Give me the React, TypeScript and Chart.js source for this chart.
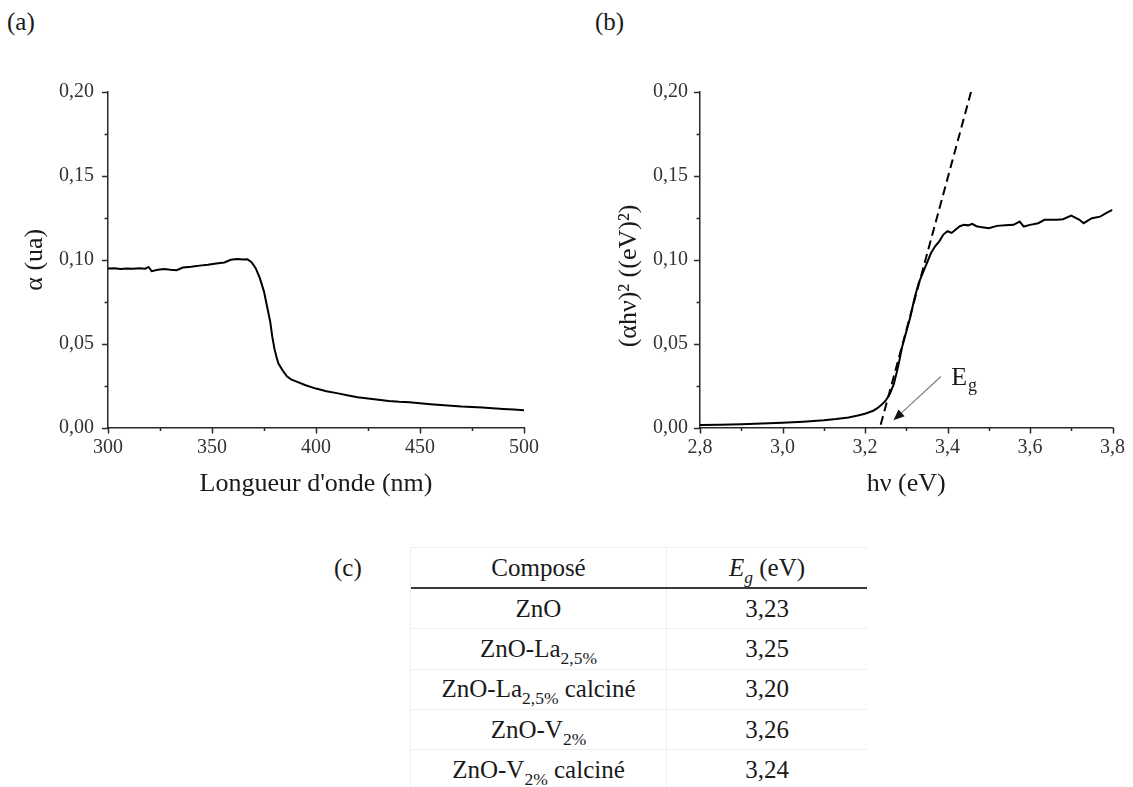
import React, { useEffect, useRef } from "react";
import { Chart, registerables } from "chart.js";

Chart.register(...registerables);

const FONT = "'Liberation Serif', 'Times New Roman', serif";
const INK = "#1a1a1a";
const AXIS = "#2a2a2a";

// ---------- (a) absorption spectrum ----------
const wavelengthNm = [
  300, 303, 306, 309, 312, 315, 318, 319.5, 321, 324, 327, 330, 333, 336, 340, 344, 348, 352, 356, 359,
  362, 365, 367, 369, 371, 373, 375, 376, 377, 378, 379, 380, 381, 382, 384, 386, 388, 391, 395, 400,
  405, 410, 415, 420, 425, 430, 435, 440, 445, 450, 455, 460, 465, 470, 475, 480, 485, 490, 495, 500,
];
const alphaUa = [
  0.0948, 0.095, 0.0945, 0.0948, 0.0946, 0.095, 0.0947, 0.0957, 0.0932, 0.094, 0.0945, 0.094, 0.0938, 0.0954, 0.0958, 0.0965, 0.097, 0.0978, 0.0984, 0.1,
  0.1004, 0.1001, 0.1003, 0.0985, 0.095, 0.089, 0.081, 0.075, 0.069, 0.063, 0.054, 0.047, 0.042, 0.038, 0.034, 0.0305, 0.0287, 0.0272, 0.0252, 0.0232,
  0.0216, 0.0205, 0.0192, 0.0181, 0.0173, 0.0165, 0.0158, 0.0153, 0.015, 0.0144, 0.0139, 0.0134, 0.013, 0.0125, 0.0122, 0.0119, 0.0115, 0.0111, 0.0107, 0.0103,
];

// ---------- (b) Tauc plot ----------
const photonEnergyEV = [
  2.8, 2.85, 2.9, 2.95, 3.0, 3.05, 3.1, 3.13, 3.16, 3.18, 3.2, 3.22, 3.23, 3.24, 3.25, 3.26, 3.27, 3.275, 3.28, 3.29,
  3.3, 3.31, 3.32, 3.33, 3.34, 3.35, 3.36, 3.37, 3.38, 3.39, 3.4, 3.41, 3.42, 3.43, 3.44, 3.45, 3.46, 3.47, 3.48, 3.5,
  3.52, 3.54, 3.56, 3.575, 3.585, 3.6, 3.62, 3.635, 3.665, 3.68, 3.7, 3.72, 3.73, 3.75, 3.77, 3.79, 3.8,
];
const tauc = [
  0.0015, 0.0017, 0.002, 0.0024, 0.0029, 0.0035, 0.0043, 0.005, 0.006, 0.007, 0.0082, 0.01, 0.0115, 0.0135, 0.016, 0.02, 0.026, 0.031, 0.036, 0.048,
  0.057, 0.066, 0.077, 0.086, 0.092, 0.098, 0.104, 0.108, 0.111, 0.115, 0.117, 0.116, 0.118, 0.12, 0.1208, 0.1205, 0.1214, 0.12, 0.1195, 0.1188,
  0.1202, 0.1206, 0.1208, 0.1228, 0.1198, 0.1208, 0.1218, 0.1238, 0.1238, 0.1242, 0.1263, 0.1238, 0.1218, 0.1248, 0.1257, 0.1285, 0.1297,
];
const tangentEV = [3.238, 3.457];
const tangentValues = [0.0016, 0.2];
const arrowFrom = [3.384, 0.0304];
const arrowTo = [3.269, 0.0043];
const egLabelAt = [3.409, 0.0251];

// ---------- axes ----------
const yTickStep = 0.05;
const yRange = [0, 0.2];
const xRangeA = [300, 500];
const xStepA = 50;
const xRangeB = [2.8, 3.8];
const xStepB = 0.2;

// ---------- (c) table ----------
const tableHeaders = ["Composé", "(eV)"];
const compounds = ["ZnO", "ZnO-La", "ZnO-La", "ZnO-V", "ZnO-V"];
const compoundSubs = ["", "2,5%", "2,5%", "2%", "2%"];
const compoundSuffix = ["", "", " calciné", "", " calciné"];
const bandGaps = ["3,23", "3,25", "3,20", "3,26", "3,24"];

const comma = (v: number, d: number) => v.toFixed(d).replace(".", ",");

const originTicks = {
  id: "originTicks",
  afterDraw(chart: any) {
    const ctx = chart.ctx;
    ctx.save();
    ctx.strokeStyle = AXIS;
    ctx.lineWidth = 1.5;
    for (const id of ["x", "y"]) {
      const s = chart.scales[id];
      const vals = s.ticks.map((t: any) => t.value);
      const draw = (v: number, len: number) => {
        const p = Math.round(s.getPixelForValue(v)) + 0.5;
        ctx.beginPath();
        if (s.isHorizontal()) {
          ctx.moveTo(p, s.top);
          ctx.lineTo(p, s.top + len);
        } else {
          ctx.moveTo(s.right, p);
          ctx.lineTo(s.right - len, p);
        }
        ctx.stroke();
      };
      vals.forEach((v: number, i: number) => {
        draw(v, 6);
        if (i < vals.length - 1) draw((v + vals[i + 1]) / 2, 3.5);
      });
    }
    ctx.restore();
  },
};

const egAnnotation = {
  id: "egAnnotation",
  afterDatasetsDraw(chart: any) {
    const { x, y } = chart.scales;
    const ctx = chart.ctx;
    const x1 = x.getPixelForValue(arrowFrom[0]);
    const y1 = y.getPixelForValue(arrowFrom[1]);
    const x2 = x.getPixelForValue(arrowTo[0]);
    const y2 = y.getPixelForValue(arrowTo[1]);
    const ang = Math.atan2(y2 - y1, x2 - x1);
    const headLen = 11;
    const headHalf = 4.5;
    ctx.save();
    ctx.strokeStyle = "#7a7a7a";
    ctx.lineWidth = 1.1;
    ctx.beginPath();
    ctx.moveTo(x1, y1);
    ctx.lineTo(x2 - Math.cos(ang) * headLen * 0.8, y2 - Math.sin(ang) * headLen * 0.8);
    ctx.stroke();
    ctx.fillStyle = "#111";
    ctx.beginPath();
    ctx.moveTo(x2, y2);
    ctx.lineTo(
      x2 - Math.cos(ang) * headLen - Math.sin(ang) * headHalf,
      y2 - Math.sin(ang) * headLen + Math.cos(ang) * headHalf
    );
    ctx.lineTo(
      x2 - Math.cos(ang) * headLen + Math.sin(ang) * headHalf,
      y2 - Math.sin(ang) * headLen - Math.cos(ang) * headHalf
    );
    ctx.closePath();
    ctx.fill();
    const lx = x.getPixelForValue(egLabelAt[0]);
    const ly = y.getPixelForValue(egLabelAt[1]);
    ctx.fillStyle = INK;
    ctx.textBaseline = "alphabetic";
    ctx.textAlign = "left";
    ctx.font = `26px ${FONT}`;
    ctx.fillText("E", lx, ly);
    const w = ctx.measureText("E").width;
    ctx.font = `18px ${FONT}`;
    ctx.fillText("g", lx + w + 1, ly + 6);
    ctx.restore();
  },
};

type PanelProps = {
  left: number;
  width: number;
  yAxisWidth: number;
  padRight: number;
  yLabelPad: number;
  yTitlePad: number;
  yTitle: string;
  xTitle: string;
  xRange: number[];
  xStep: number;
  xDecimals: number;
  datasets: any[];
  extraPlugins: any[];
};

function Panel(p: PanelProps) {
  const ref = useRef<HTMLCanvasElement | null>(null);
  useEffect(() => {
    if (!ref.current) return;
    const chart = new Chart(ref.current, {
      type: "line",
      data: { datasets: p.datasets },
      options: {
        animation: false,
        responsive: false,
        devicePixelRatio: 1,
        layout: { padding: { top: 92, right: p.padRight, left: 0, bottom: 0 } },
        plugins: { legend: { display: false }, tooltip: { enabled: false } },
        elements: { point: { radius: 0 }, line: { tension: 0 } },
        scales: {
          x: {
            type: "linear",
            min: p.xRange[0],
            max: p.xRange[1],
            grid: { display: false, drawTicks: false },
            border: { display: true, color: AXIS, width: 1.5 },
            ticks: {
              stepSize: p.xStep,
              padding: 8,
              maxRotation: 0,
              color: "#333",
              font: { family: FONT, size: 20 },
              callback: (v: any) => comma(Number(v), p.xDecimals),
            },
            title: {
              display: true,
              text: p.xTitle,
              color: INK,
              font: { family: FONT, size: 26 },
              padding: { top: 0, bottom: 20 },
            },
            afterFit: (s: any) => {
              s.height = 520 - 427.5;
            },
          },
          y: {
            type: "linear",
            min: yRange[0],
            max: yRange[1],
            grid: { display: false, drawTicks: false },
            border: { display: true, color: AXIS, width: 1.5 },
            ticks: {
              stepSize: yTickStep,
              padding: p.yLabelPad,
              color: "#333",
              font: { family: FONT, size: 20 },
              callback: (v: any) => comma(Number(v), 2),
            },
            title: {
              display: true,
              text: p.yTitle,
              color: INK,
              font: { family: FONT, size: 26 },
              padding: { top: p.yTitlePad, bottom: 0 },
            },
            afterFit: (s: any) => {
              s.width = p.yAxisWidth;
            },
          },
        },
      } as any,
      plugins: [originTicks, ...p.extraPlugins],
    });
    return () => chart.destroy();
  }, []);
  return (
    <canvas
      ref={ref}
      width={p.width}
      height={520}
      style={{ position: "absolute", left: p.left, top: 0, width: p.width, height: 520 }}
    />
  );
}

const panelLabel = (text: string, left: number, top: number) => (
  <div
    style={{
      position: "absolute",
      left,
      top,
      fontFamily: FONT,
      fontSize: 25,
      lineHeight: "28px",
      color: INK,
    }}
  >
    {text}
  </div>
);

export default function App() {
  useEffect(() => {
    document.documentElement.style.overflow = "hidden";
    document.body.style.overflow = "hidden";
  }, []);

  const spectrum = wavelengthNm.map((w, i) => ({ x: w, y: alphaUa[i] }));
  const taucPts = photonEnergyEV.map((e, i) => ({ x: e, y: tauc[i] }));
  const tangentPts = tangentEV.map((e, i) => ({ x: e, y: tangentValues[i] }));

  const tableLeft = 410;
  const tableTop = 547;
  const colW = [256, 201];
  const headH = 40;
  const rowH = 40.3;
  const cell: React.CSSProperties = {
    position: "absolute",
    display: "flex",
    alignItems: "center",
    justifyContent: "center",
    boxSizing: "border-box",
    fontFamily: FONT,
    fontSize: 25,
    color: INK,
    whiteSpace: "nowrap",
    borderRight: "1px solid #efefef",
    borderBottom: "1px solid #efefef",
  };
  const sub: React.CSSProperties = { fontSize: "0.7em", verticalAlign: "-0.4em", lineHeight: 0 };

  return (
    <div style={{ position: "absolute", left: 0, top: 0, width: 1133, height: 787, overflow: "hidden", background: "#fff" }}>
      {panelLabel("(a)", 7, 8)}
      {panelLabel("(b)", 595, 8)}
      {panelLabel("(c)", 334, 554)}
      <Panel
        left={0}
        width={580}
        yAxisWidth={108}
        padRight={56}
        yLabelPad={14}
        yTitlePad={20}
        yTitle="α (ua)"
        xTitle="Longueur d'onde (nm)"
        xRange={xRangeA}
        xStep={xStepA}
        xDecimals={0}
        datasets={[
          { data: spectrum, borderColor: "#000", borderWidth: 2, pointRadius: 0, fill: false },
        ]}
        extraPlugins={[]}
      />
      <Panel
        left={580}
        width={553}
        yAxisWidth={120}
        padRight={16}
        yLabelPad={12}
        yTitlePad={34}
        yTitle={"(αhν)² ((eV)²)\u00a0\u00a0\u00a0\u00a0\u00a0"}
        xTitle="hν (eV)"
        xRange={xRangeB}
        xStep={xStepB}
        xDecimals={1}
        datasets={[
          { data: taucPts, borderColor: "#000", borderWidth: 2, pointRadius: 0, fill: false },
          {
            data: tangentPts,
            borderColor: "#000",
            borderWidth: 2,
            borderDash: [9, 5],
            pointRadius: 0,
            fill: false,
          },
        ]}
        extraPlugins={[egAnnotation]}
      />
      <div
        style={{
          position: "absolute",
          left: tableLeft,
          top: tableTop,
          width: colW[0] + colW[1],
          height: 787 - tableTop,
          overflow: "hidden",
          borderTop: "1px solid #efefef",
          borderLeft: "1px solid #efefef",
          boxSizing: "border-box",
        }}
      >
        <div style={{ ...cell, left: 0, top: 0, width: colW[0], height: headH, borderBottom: "none" }}>
          {tableHeaders[0]}
        </div>
        <div style={{ ...cell, left: colW[0], top: 0, width: colW[1], height: headH, borderBottom: "none" }}>
          <span>
            <i>E</i>
            <sub style={sub}>
              <i>g</i>
            </sub>{" "}
            {tableHeaders[1]}
          </span>
        </div>
        <div
          style={{
            position: "absolute",
            left: -1,
            top: headH - 1,
            width: colW[0] + colW[1] + 1,
            height: 2,
            background: "#3a3a3a",
          }}
        />
        {compounds.map((c, i) => (
          <React.Fragment key={i}>
            <div style={{ ...cell, left: 0, top: headH + 1 + i * rowH, width: colW[0], height: rowH }}>
              <span>
                {c}
                {compoundSubs[i] ? <sub style={sub}>{compoundSubs[i]}</sub> : null}
                {compoundSuffix[i]}
              </span>
            </div>
            <div style={{ ...cell, left: colW[0], top: headH + 1 + i * rowH, width: colW[1], height: rowH }}>
              {bandGaps[i]}
            </div>
          </React.Fragment>
        ))}
      </div>
    </div>
  );
}
